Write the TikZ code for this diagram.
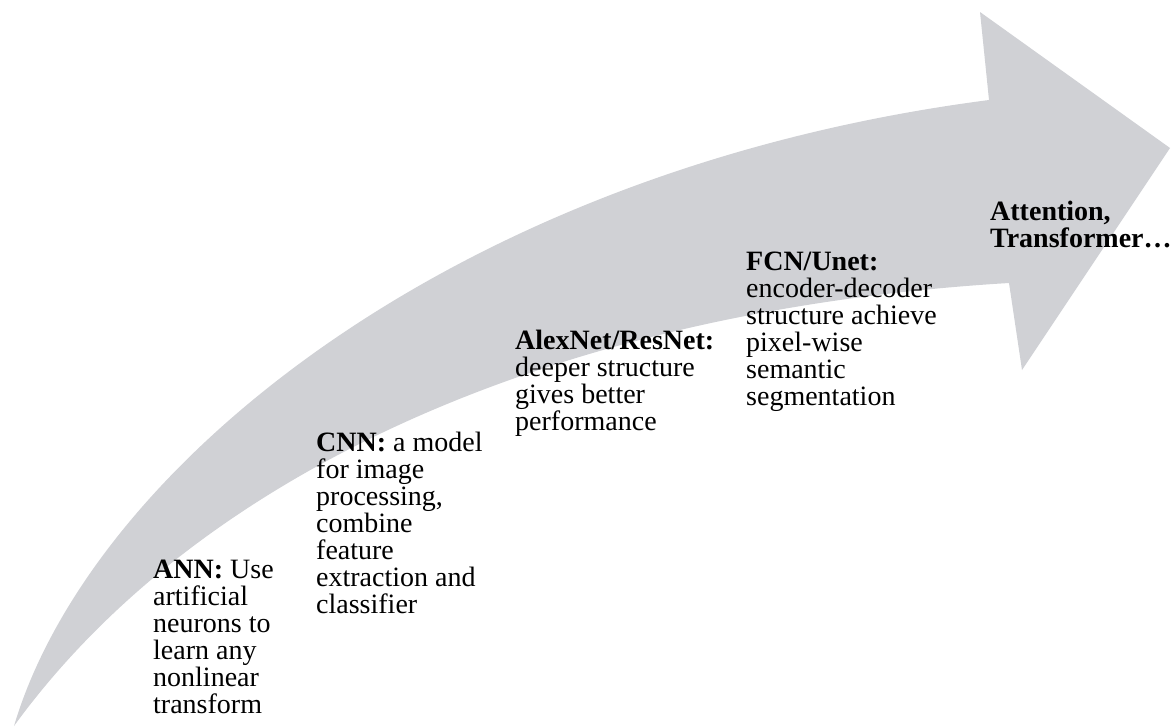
\documentclass[tikz,border=0pt]{standalone}
\usepackage{fontspec}
\setmainfont{Liberation Serif}
\usepackage{xcolor}
\usepackage{tikz}
\definecolor{arrowgray}{RGB}{208,209,213}
\lineskiplimit=-30pt

\begin{document}
\begin{tikzpicture}[x=1pt,y=-1pt,
		step label/.style={anchor=base west,align=left,inner sep=0pt,
			font=\fontsize{28}{27}\selectfont}]
		\useasboundingbox (0,0) rectangle (1176,726);
		% big curved arrow
		\fill[arrowgray] (14,726) .. controls (90,470) and (450,170) .. (989,100)
			-- (980,12) -- (1170,148) -- (1022,370) -- (1009,283)
			.. controls (560,310) and (200,470) .. (14,726) -- cycle;
		% steps (placed by the baseline of their last line)
		\node[step label] (ann) at (153,713) {\textbf{ANN:} Use\\artificial\\neurons to\\learn any\\nonlinear\\transform};
		\node[step label] (cnn) at (316,613) {\textbf{CNN:} a model\\for image\\processing,\\combine\\feature\\extraction and\\classifier};
		\node[step label] (alex) at (515,430) {\textbf{AlexNet/ResNet:}\\deeper structure\\gives better\\performance};
		\node[step label] (fcn) at (746,405) {\textbf{FCN/Unet:}\\encoder-decoder\\structure achieve\\pixel-wise\\semantic\\segmentation};
		\node[step label] (attn) at (990,247) {\textbf{Attention,}\\\textbf{Transformer\ldots}};
	\end{tikzpicture}
\end{document}
